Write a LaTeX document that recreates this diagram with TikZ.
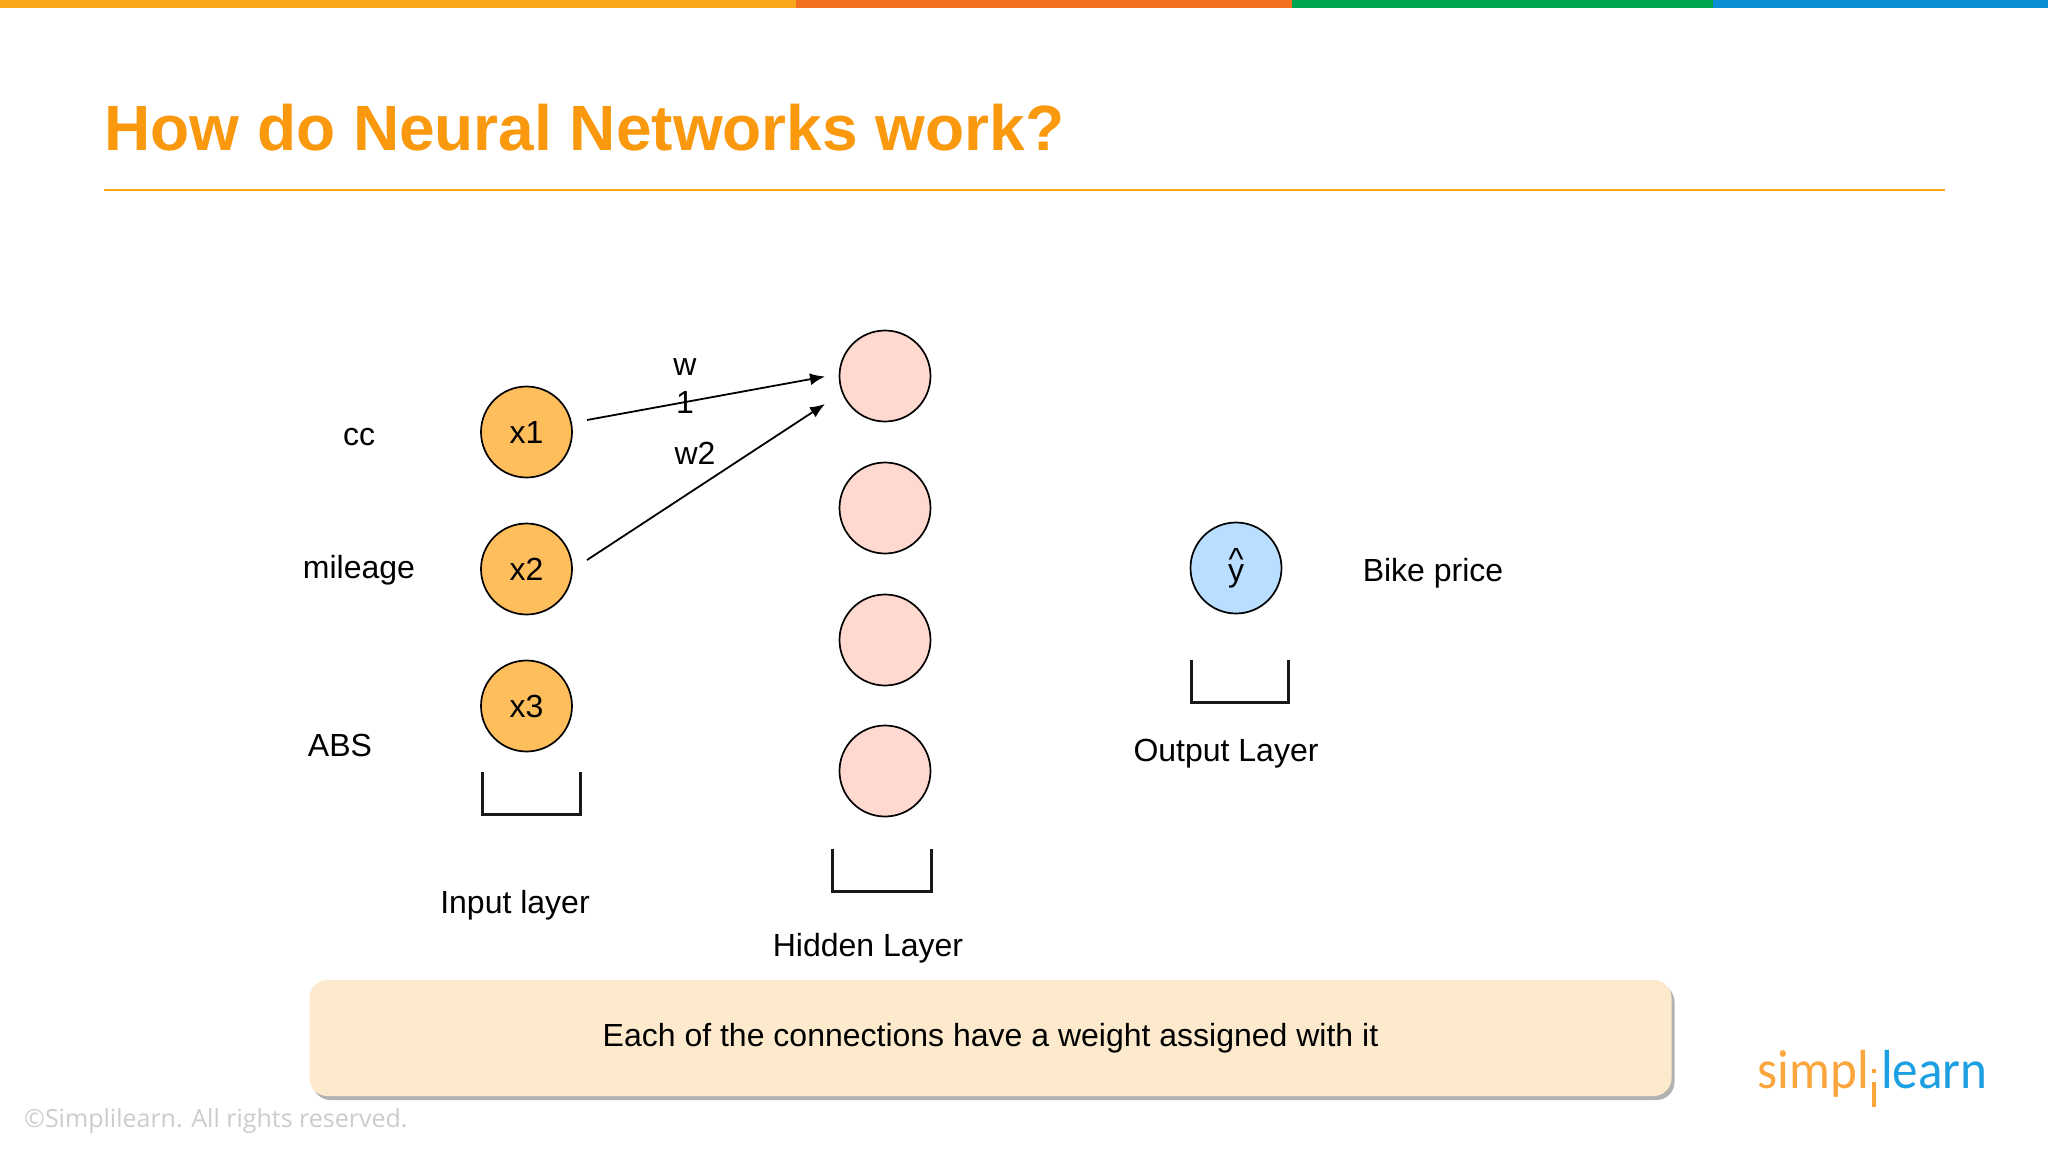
\documentclass[tikz,border=0pt]{standalone}
\usepackage{fontspec}
\setmainfont{Liberation Sans}
\newfontfamily\copyfont{Open Sans}
\newfontfamily\logofont{Carlito}
\usetikzlibrary{arrows.meta,shadows}
\definecolor{barA}{RGB}{250,166,26}
\definecolor{barB}{RGB}{243,112,33}
\definecolor{barC}{RGB}{0,166,81}
\definecolor{barD}{RGB}{10,143,214}
\definecolor{titleorange}{RGB}{250,152,14}
\definecolor{inputfill}{RGB}{255,190,92}
\definecolor{hiddenfill}{RGB}{255,217,207}
\definecolor{outputfill}{RGB}{185,222,255}
\definecolor{boxfill}{RGB}{253,234,205}
\definecolor{logoorange}{RGB}{250,166,60}
\definecolor{logoblue}{RGB}{28,160,225}
\newcommand{\caretover}[1]{\vbox{\baselineskip=11pt\lineskiplimit=-100pt\halign{\hfil##\hfil\cr\textasciicircum\cr#1\cr}}}
\tikzset{
  neuron/.style={circle,draw=black,line width=1.7pt,minimum size=91pt,inner sep=0pt,font=\fontsize{32}{38}\selectfont},
  label/.style={font=\fontsize{32}{38}\selectfont,inner sep=0pt},
  layerbracket/.style={line width=3pt,draw=black!90},
  weight/.style={line width=1.8pt,-{Latex[length=15pt,width=12pt]}}
}
\begin{document}
\begin{tikzpicture}[x=1pt,y=-1pt]
          \useasboundingbox (0,0) rectangle (2048,1152);
          \fill[white] (0,0) rectangle (2048,1152);

          \fill[barA] (0,0) rectangle (796,8);
          \fill[barB] (796,0) rectangle (1292,8);
          \fill[barC] (1292,0) rectangle (1713,8);
          \fill[barD] (1713,0) rectangle (2048,8);

          \node[anchor=base west,inner sep=0pt,text=titleorange,font=\fontsize{64}{70}\selectfont\bfseries] (title) at (104,150) {How do Neural Networks work?};
          \draw[barA,line width=1.8pt] (104,190) -- (1945,190);

          \node[neuron,fill=inputfill] (x1) at (526.5,432) {x1};
          \node[neuron,fill=inputfill] (x2) at (526.5,569) {x2};
          \node[neuron,fill=inputfill] (x3) at (526.5,706) {x3};
          \node[neuron,fill=hiddenfill] (h1) at (885,376) {};
          \node[neuron,fill=hiddenfill] (h2) at (885,508) {};
          \node[neuron,fill=hiddenfill] (h3) at (885,640) {};
          \node[neuron,fill=hiddenfill] (h4) at (885,771) {};
          \node[neuron,fill=outputfill] (yhat) at (1236,568) {\caretover{y}};

          \coordinate (p1) at (587,420);
          \coordinate (p2) at (587,560);
          \coordinate (q1) at (825,376.5);
          \coordinate (q2) at (825,404);
          \draw[weight] (p1) -- (q1);
          \draw[weight] (p2) -- (q2);

          \node[label,align=center] (w1) at (685,386) {w\\1};
          \node[label] (w2) at (695,453) {w2};

          \node[label] (cc) at (359,437.5) {cc};
          \node[label] (mileage) at (359,570) {mileage};
          \node[label] (abs) at (340,745) {ABS};
          \node[label] (bike) at (1433,573) {Bike price};

          \draw[layerbracket] (482,772) -- (482,814) -- (580,814) -- (580,772);
          \draw[layerbracket] (832,849) -- (832,891) -- (931,891) -- (931,849);
          \draw[layerbracket] (1191,660) -- (1191,702) -- (1288,702) -- (1288,660);

          \node[label] (inlabel) at (515,905) {Input layer};
          \node[label] (hidlabel) at (868,948) {Hidden Layer};
          \node[label] (outlabel) at (1226,754) {Output Layer};

          \node[fill=boxfill,rounded corners=18pt,minimum width=1362pt,minimum height=116pt,inner sep=0pt,
                font=\fontsize{32}{38}\selectfont,
                drop shadow={shadow xshift=3pt,shadow yshift=-4pt,fill=black!40,opacity=0.75}] (note) at (990.5,1038) {Each of the connections have a weight assigned with it};

          \node[anchor=base west,inner sep=0pt,text=black!20,font=\copyfont\fontsize{25}{30}\selectfont] (copy) at (24,1127) {©Simplilearn. All rights reserved.};

          % logo
          \node[anchor=base east,xscale=0.93,inner sep=0pt,text=logoorange,font=\logofont\fontsize{55}{60}\selectfont] (simpl) at (1869,1088) {simpl};
          \node[anchor=base west,xscale=0.93,inner sep=0pt,text=logoblue,font=\logofont\fontsize{55}{60}\selectfont] (learn) at (1881,1088) {learn};
          \fill[logoorange] (1871.5,1069) rectangle (1875.5,1073);
          \fill[logoorange] (1871.5,1082) rectangle (1875.5,1107);
\end{tikzpicture}
\end{document}
